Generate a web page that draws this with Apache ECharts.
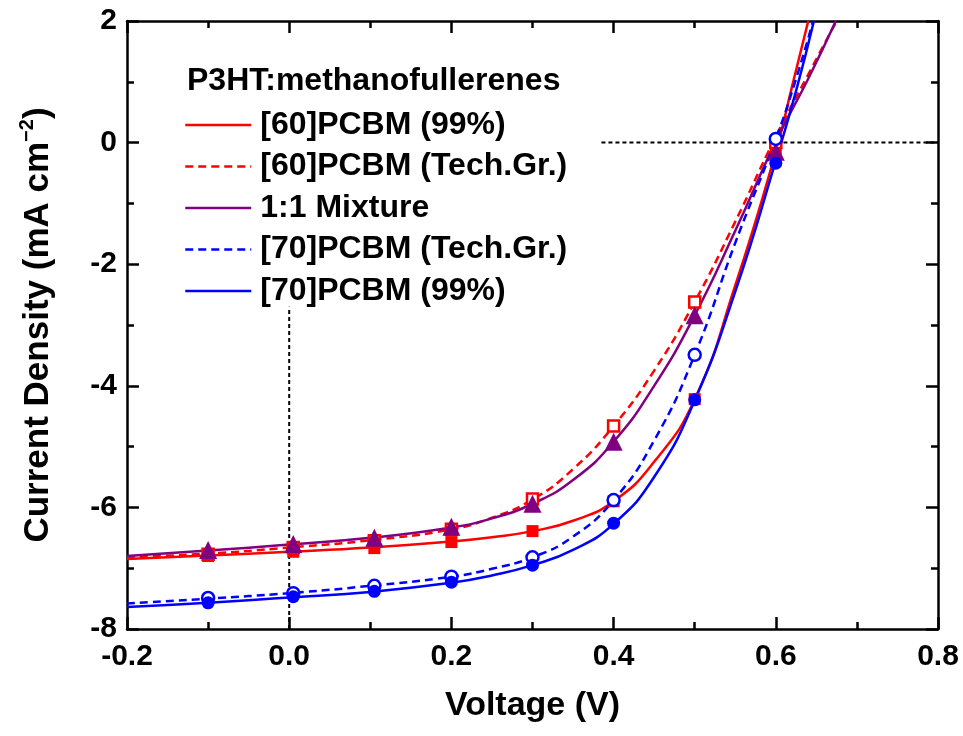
<!DOCTYPE html>
<html>
<head>
<meta charset="utf-8">
<script src="https://cdn.jsdelivr.net/npm/echarts@6/dist/echarts.min.js"></script>
<style>
  html, body { margin: 0; padding: 0; background: #fff; }
  #chart { width: 963px; height: 736px; }
</style>
</head>
<body>
<div id="chart"></div>
<script>
// fitted curves, sampled at shared voltages, each with its own tail up to the top edge
const curveV = [-0.2, -0.1, 0, 0.1, 0.2, 0.25, 0.3, 0.35, 0.4, 0.45, 0.5, 0.55, 0.6]
const fit60pure = [-6.85, -6.79, -6.73, -6.66, -6.56, -6.49, -6.39, -6.22, -5.90, -5.25, -4.22, -2.35, -0.15]
const tail60pure = [[0.62, 0.92], [0.64, 2.0]]
const fit60tech = [-6.82, -6.76, -6.66, -6.54, -6.36, -6.17, -5.87, -5.37, -4.66, -3.75, -2.62, -1.30, 0.10]
const tail60tech = [[0.64, 1.12], [0.675, 2.0]]
const fitMix = [-6.80, -6.71, -6.61, -6.50, -6.33, -6.18, -5.94, -5.55, -4.92, -4.00, -2.84, -1.45, 0.02]
const tailMix = [[0.64, 1.05], [0.674, 2.0]]
const fit70tech = [-7.58, -7.50, -7.41, -7.29, -7.14, -7.01, -6.82, -6.48, -5.88, -4.90, -3.49, -1.65, 0.06]
const tail70tech = [[0.625, 1.05], [0.646, 2.0]]
const fit70pure = [-7.64, -7.57, -7.48, -7.39, -7.24, -7.12, -6.95, -6.70, -6.27, -5.50, -4.24, -2.45, -0.30]
const tail70pure = [[0.625, 0.85], [0.647, 2.0]]

// measured points
const pointV = [-0.1, 0.005, 0.105, 0.2, 0.3, 0.4, 0.5, 0.6]
const pts60pure = [-6.80, -6.73, -6.67, -6.57, -6.39, -5.90, -4.22, -0.15]
const pts60tech = [-6.77, -6.66, -6.55, -6.36, -5.86, -4.66, -2.62, 0.00]
const ptsMix = [-6.70, -6.60, -6.50, -6.32, -5.94, -4.92, -2.84, -0.15]
const pts70tech = [-7.49, -7.41, -7.29, -7.14, -6.82, -5.88, -3.49, 0.06]
const pts70pure = [-7.57, -7.47, -7.38, -7.23, -6.95, -6.26, -4.23, -0.34]

// dashed guides
const guideV0 = [[0, -8], [0, -2.7]]
const guideJ0 = [[0.385, 0], [0.8, 0]]

const names = ['[60]PCBM (99%)', '[60]PCBM (Tech.Gr.)', '1:1 Mixture', '[70]PCBM (Tech.Gr.)', '[70]PCBM (99%)']
const RED = '#FF0000'
const PURPLE = '#800080'
const BLUE = '#0000FF'
const FONT = 'Liberation Sans, Arial, sans-serif'

function curve(ys, tail) {
  return curveV.map((v, i) => [v, ys[i]]).concat(tail)
}
function points(ys) {
  return pointV.map((v, i) => [v, ys[i]])
}

function fitSeries(name, ys, tail, color, dashed) {
  return {
    name,
    type: 'line',
    data: curve(ys, tail),
    symbol: 'none',
    smooth: true,
    lineStyle: { color, width: 2.5, type: dashed ? [8, 5] : 'solid' },
    itemStyle: { color },
    z: 2,
  }
}
function pointSeries(name, ys, symbol, size, color, open) {
  return {
    name,
    type: 'scatter',
    data: points(ys),
    symbol,
    symbolSize: size,
    itemStyle: open
      ? { color: '#fff', borderColor: color, borderWidth: 2.5, opacity: 1 }
      : { color, opacity: 1 },
    z: 3,
  }
}

const axisBase = {
  type: 'value',
  axisLine: { onZero: false, lineStyle: { color: '#000', width: 2.5 } },
  axisTick: { inside: true, length: 12, lineStyle: { color: '#000', width: 2.5 } },
  minorTick: { show: true, splitNumber: 2, length: 7, lineStyle: { color: '#000', width: 2.5 } },
  splitLine: { show: false },
}

const chart = echarts.init(document.getElementById('chart'))
chart.setOption({
  animation: false,
  backgroundColor: '#fff',
  textStyle: { fontFamily: FONT },
  grid: { left: 127, right: 25, top: 21, bottom: 107 },
  title: {
    text: 'P3HT:methanofullerenes',
    left: 187,
    top: 65,
    padding: 0,
    textStyle: { fontSize: 32, fontWeight: 'bold', color: '#000', fontFamily: FONT },
  },
  legend: {
    orient: 'vertical',
    left: 184,
    top: 109,
    padding: 0,
    itemWidth: 66,
    itemHeight: 14,
    itemGap: 9.5,
    data: names,
    itemStyle: { opacity: 0 },
    lineStyle: { width: 2.5 },
    textStyle: { fontSize: 32, fontWeight: 'bold', color: '#000', lineHeight: 32, fontFamily: FONT, padding: [0, 0, 0, 4] },
  },
  xAxis: [
    {
      ...axisBase,
      position: 'bottom',
      min: -0.2,
      max: 0.8,
      interval: 0.2,
      axisLabel: {
        fontSize: 30, fontWeight: 'bold', color: '#000', margin: 13, fontFamily: FONT,
        formatter: (v) => v.toFixed(1),
      },
      name: 'Voltage (V)',
      nameLocation: 'middle',
      nameGap: 60,
      nameTextStyle: { fontSize: 34, fontWeight: 'bold', color: '#000', fontFamily: FONT },
    },
    {
      ...axisBase,
      position: 'top',
      min: -0.2,
      max: 0.8,
      interval: 0.2,
      axisLabel: { show: false },
    },
  ],
  yAxis: [
    {
      ...axisBase,
      position: 'left',
      min: -8,
      max: 2,
      interval: 2,
      axisLabel: { fontSize: 30, fontWeight: 'bold', color: '#000', margin: 10, fontFamily: FONT },
      name: 'Current Density (mA cm{sup|−2})',
      nameLocation: 'middle',
      nameGap: 68,
      nameTextStyle: {
        fontSize: 35, fontWeight: 'bold', color: '#000', fontFamily: FONT, lineHeight: 42,
        rich: { sup: { fontSize: 20, fontWeight: 'bold', color: '#000', fontFamily: FONT, verticalAlign: 'top', lineHeight: 42, padding: [0, 0, 18, 0] } },
      },
    },
    {
      ...axisBase,
      position: 'right',
      min: -8,
      max: 2,
      interval: 2,
      axisLabel: { show: false },
    },
  ],
  series: [
    {
      name: 'guideV', type: 'line', data: guideV0, symbol: 'none',
      lineStyle: { color: '#000', width: 2, type: [4, 3] }, z: 1,
    },
    {
      name: 'guideJ', type: 'line', data: guideJ0, symbol: 'none',
      lineStyle: { color: '#000', width: 2, type: [4, 3] }, z: 1,
    },
    fitSeries(names[0], fit60pure, tail60pure, RED, false),
    fitSeries(names[1], fit60tech, tail60tech, RED, true),
    fitSeries(names[2], fitMix, tailMix, PURPLE, false),
    fitSeries(names[3], fit70tech, tail70tech, BLUE, true),
    fitSeries(names[4], fit70pure, tail70pure, BLUE, false),
    pointSeries('p60pure', pts60pure, 'rect', 12, RED, false),
    pointSeries('p60tech', pts60tech, 'rect', 11, RED, true),
    pointSeries('pMix', ptsMix, 'triangle', 18, PURPLE, false),
    pointSeries('p70tech', pts70tech, 'circle', 12, BLUE, true),
    pointSeries('p70pure', pts70pure, 'circle', 13, BLUE, false),
  ],
})
</script>
</body>
</html>
